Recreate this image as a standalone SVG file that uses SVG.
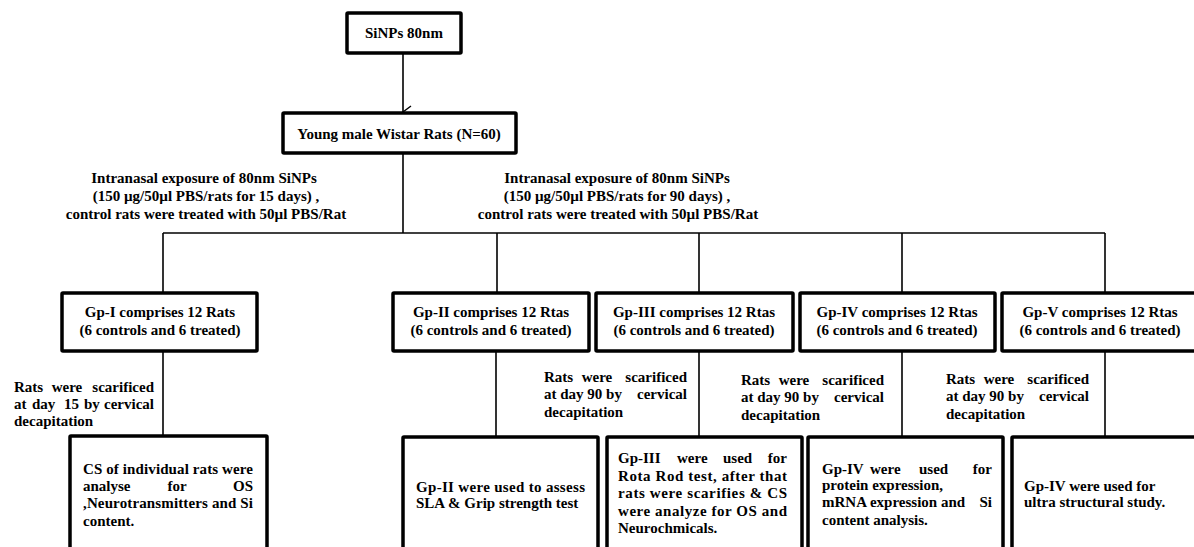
<svg xmlns="http://www.w3.org/2000/svg" width="1194" height="547" viewBox="0 0 1194 547">
<defs>
<style>
.box{fill:#fff;stroke:#000;stroke-width:3.5}
.ln{fill:none;stroke:#000;stroke-width:1.6}
text{font-family:"Liberation Serif","Times New Roman",serif;font-weight:bold;font-size:15px;fill:#000}
.c{text-anchor:middle}
.e{text-anchor:end}
</style>
<marker id="arr" markerWidth="14" markerHeight="14" refX="7" refY="11" orient="auto" markerUnits="userSpaceOnUse" viewBox="0 0 14 14">
<polyline points="1,3 7,11 13,3" fill="none" stroke="#000" stroke-width="1.4"/>
</marker>
</defs>
<rect width="1194" height="547" fill="#fff"/>

<g id="connectors">
<line class="ln" x1="403" y1="53" x2="403" y2="112" marker-end="url(#arr)"/>
<line class="ln" x1="403" y1="153" x2="403" y2="233"/>
<line class="ln" x1="163" y1="233" x2="1105" y2="233"/>
<line class="ln" x1="163" y1="233" x2="163" y2="293"/>
<line class="ln" x1="497" y1="233" x2="497" y2="293"/>
<line class="ln" x1="699" y1="233" x2="699" y2="293"/>
<line class="ln" x1="902" y1="233" x2="902" y2="293"/>
<line class="ln" x1="1105" y1="233" x2="1105" y2="293"/>
<line class="ln" x1="163" y1="351" x2="163" y2="436"/>
<line class="ln" x1="496" y1="351" x2="496" y2="436"/>
<line class="ln" x1="699" y1="351" x2="699" y2="436"/>
<line class="ln" x1="902" y1="351" x2="902" y2="436"/>
<line class="ln" x1="1105" y1="351" x2="1105" y2="436"/>
</g>

<g id="labels">
<text class="c" x="204" y="183">Intranasal exposure of 80nm SiNPs</text>
<text class="c" x="206" y="201">(150 µg/50µl PBS/rats  for 15 days)  ,</text>
<text class="c" x="206" y="219">control rats were treated  with 50µl PBS/Rat</text>
<text class="c" x="617" y="183">Intranasal exposure of 80nm SiNPs</text>
<text class="c" x="617" y="201">(150 µg/50µl PBS/rats  for 90 days) ,</text>
<text class="c" x="618" y="219">control rats were treated  with 50µl PBS/Rat</text>

<text x="14" y="392">Rats</text><text class="c" x="67" y="392">were</text><text class="e" x="154" y="392">scarificed</text>
<text x="14" y="409">at</text><text x="32" y="409">day</text><text x="64" y="409">15</text><text x="84" y="409">by</text><text class="e" x="154" y="409">cervical</text>
<text x="14" y="426">decapitation</text>

<text x="544" y="382">Rats</text><text class="c" x="597" y="382">were</text><text class="e" x="687" y="382">scarificed</text>
<text x="544" y="399">at day 90 by</text><text class="e" x="687" y="399">cervical</text>
<text x="544" y="417">decapitation</text>

<text x="741" y="385">Rats</text><text class="c" x="794" y="385">were</text><text class="e" x="884" y="385">scarificed</text>
<text x="741" y="402">at day 90 by</text><text class="e" x="884" y="402">cervical</text>
<text x="741" y="420">decapitation</text>

<text x="946" y="384">Rats</text><text class="c" x="999" y="384">were</text><text class="e" x="1089" y="384">scarificed</text>
<text x="946" y="401">at day 90 by</text><text class="e" x="1089" y="401">cervical</text>
<text x="946" y="419">decapitation</text>
</g>

<g id="n-sinps">
<rect class="box" x="347" y="13" width="114" height="40" rx="1"/>
<text class="c" x="404" y="38">SiNPs 80nm</text>
</g>
<g id="n-rats">
<rect class="box" x="283" y="113" width="233" height="40" rx="1"/>
<text class="c" x="399" y="139">Young male Wistar Rats (N=60)</text>
</g>

<g id="n-gp1">
<rect class="box" x="62" y="293" width="195" height="58" rx="1"/>
<text class="c" x="160" y="317">Gp-I  comprises 12 Rats</text>
<text class="c" x="160" y="335">(6 controls and 6 treated)</text>
</g>
<g id="n-gp2">
<rect class="box" x="393" y="293" width="196" height="58" rx="1"/>
<text class="c" x="491" y="317">Gp-II  comprises 12 Rtas</text>
<text class="c" x="491" y="335">(6 controls and 6 treated)</text>
</g>
<g id="n-gp3">
<rect class="box" x="596" y="293" width="197" height="58" rx="1"/>
<text class="c" x="694" y="317">Gp-III  comprises 12 Rtas</text>
<text class="c" x="694" y="335">(6 controls and 6 treated)</text>
</g>
<g id="n-gp4">
<rect class="box" x="800" y="293" width="195" height="58" rx="1"/>
<text class="c" x="897" y="317">Gp-IV  comprises 12 Rtas</text>
<text class="c" x="897" y="335">(6 controls and 6 treated)</text>
</g>
<g id="n-gp5">
<rect class="box" x="1002" y="293" width="200" height="58" rx="1"/>
<text class="c" x="1100" y="317">Gp-V  comprises 12 Rtas</text>
<text class="c" x="1100" y="335">(6 controls and 6 treated)</text>
</g>

<g id="n-out1">
<rect class="box" x="70" y="436" width="197" height="130" rx="1"/>
<text x="83" y="474" textLength="170" lengthAdjust="spacing">CS of individual rats were</text>
<text x="83" y="491">analyse</text><text class="c" x="177" y="491">for</text><text class="e" x="253" y="491">OS</text>
<text x="83" y="508" textLength="170" lengthAdjust="spacing">,Neurotransmitters and Si</text>
<text x="83" y="526">content.</text>
</g>
<g id="n-out2">
<rect class="box" x="403" y="437" width="195" height="130" rx="1"/>
<text x="416" y="492" textLength="169" lengthAdjust="spacing">Gp-II were used to assess</text>
<text x="416" y="508">SLA &amp; Grip strength test</text>
</g>
<g id="n-out3">
<rect class="box" x="607" y="437" width="195" height="130" rx="1"/>
<text x="618" y="463">Gp-III</text><text x="677" y="463">were</text><text x="723" y="463">used</text><text class="e" x="787" y="463">for</text>
<text x="618" y="481" textLength="169" lengthAdjust="spacing">Rota Rod test, after that</text>
<text x="618" y="498" textLength="169" lengthAdjust="spacing">rats were scarifies &amp; CS</text>
<text x="618" y="516" textLength="169" lengthAdjust="spacing">were analyze for OS and</text>
<text x="618" y="533">Neurochmicals.</text>
</g>
<g id="n-out4">
<rect class="box" x="808" y="437" width="195" height="130" rx="1"/>
<text x="822" y="474">Gp-IV</text><text x="870" y="474">were</text><text x="919" y="474">used</text><text class="e" x="992" y="474">for</text>
<text x="822" y="490">protein expression,</text>
<text x="822" y="507">mRNA expression and</text><text class="e" x="992" y="507">Si</text>
<text x="822" y="525">content analysis.</text>
</g>
<g id="n-out5">
<rect class="box" x="1012" y="437" width="195" height="130" rx="1"/>
<text x="1024" y="491">Gp-IV were used for</text>
<text x="1024" y="507">ultra structural study.</text>
</g>
</svg>
